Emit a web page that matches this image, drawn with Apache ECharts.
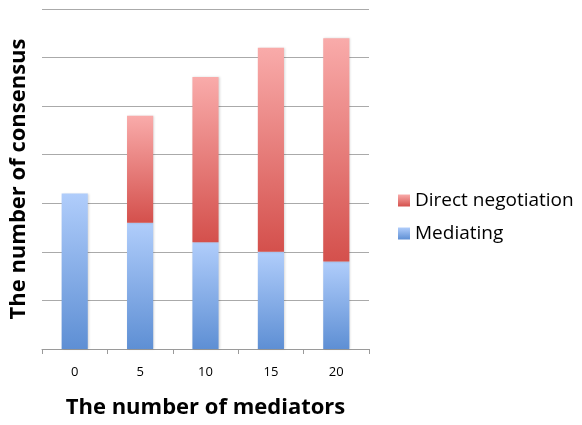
<!DOCTYPE html>
<html>
<head>
<meta charset="utf-8">
<script src="https://cdn.jsdelivr.net/npm/echarts@6/dist/echarts.min.js"></script>
<style>
  html, body { margin: 0; padding: 0; background: #fff; }
  #chart { width: 582px; height: 425px; }
</style>
</head>
<body>
<div id="chart"></div>
<script>
  // data
  const categories = ['0', '5', '10', '15', '20']
  const mediating = [3.2, 2.6, 2.2, 2.0, 1.8]
  const directNegotiation = [0, 2.2, 3.4, 4.2, 4.6]

  const font = '"Open Sans", "DejaVu Sans", sans-serif'

  function grad (top, bottom) {
    return new echarts.graphic.LinearGradient(0, 0, 0, 1, [
      { offset: 0, color: top },
      { offset: 1, color: bottom }
    ])
  }

  const chart = echarts.init(document.getElementById('chart'))
  chart.setOption({
    animation: false,
    grid: {
      left: 34,
      right: 213,
      top: 9,
      bottom: 76
    },
    legend: {
      orient: 'vertical',
      left: 393,
      top: 186,
      itemWidth: 12,
      itemHeight: 12,
      itemGap: 14,
      icon: 'rect',
      data: ['Direct negotiation', 'Mediating'],
      textStyle: { fontFamily: font, fontSize: 19, color: '#000' }
    },
    xAxis: {
      type: 'category',
      data: categories,
      name: 'The number of mediators',
      nameLocation: 'middle',
      nameGap: 48,
      nameTextStyle: { fontFamily: font, fontSize: 22, fontWeight: 'bold', color: '#000' },
      axisLine: { lineStyle: { color: '#9a9a9a' } },
      axisTick: { show: true, length: 5, lineStyle: { color: '#9a9a9a' } },
      axisLabel: { fontFamily: font, fontSize: 13, color: '#000', margin: 17 }
    },
    yAxis: {
      type: 'value',
      min: 0,
      max: 7,
      interval: 1,
      name: 'The number of consensus',
      nameLocation: 'middle',
      nameGap: 12,
      nameTextStyle: { fontFamily: font, fontSize: 22, fontWeight: 'bold', color: '#000' },
      axisLine: { show: false },
      axisTick: { show: false },
      axisLabel: { show: false },
      splitLine: { lineStyle: { color: '#aaaaaa' } }
    },
    series: [
      {
        name: 'Mediating',
        type: 'bar',
        stack: 'total',
        barWidth: '40%',
        data: mediating,
        itemStyle: {
          color: grad('#b0cdfb', '#5e8fd4'),
          shadowColor: 'rgba(0,0,0,0.15)',
          shadowBlur: 2,
          shadowOffsetX: 1
        }
      },
      {
        name: 'Direct negotiation',
        type: 'bar',
        stack: 'total',
        barWidth: '40%',
        data: directNegotiation,
        itemStyle: {
          color: grad('#f9abaa', '#d4504c'),
          shadowColor: 'rgba(0,0,0,0.15)',
          shadowBlur: 2,
          shadowOffsetX: 1
        }
      }
    ]
  })
</script>
</body>
</html>
